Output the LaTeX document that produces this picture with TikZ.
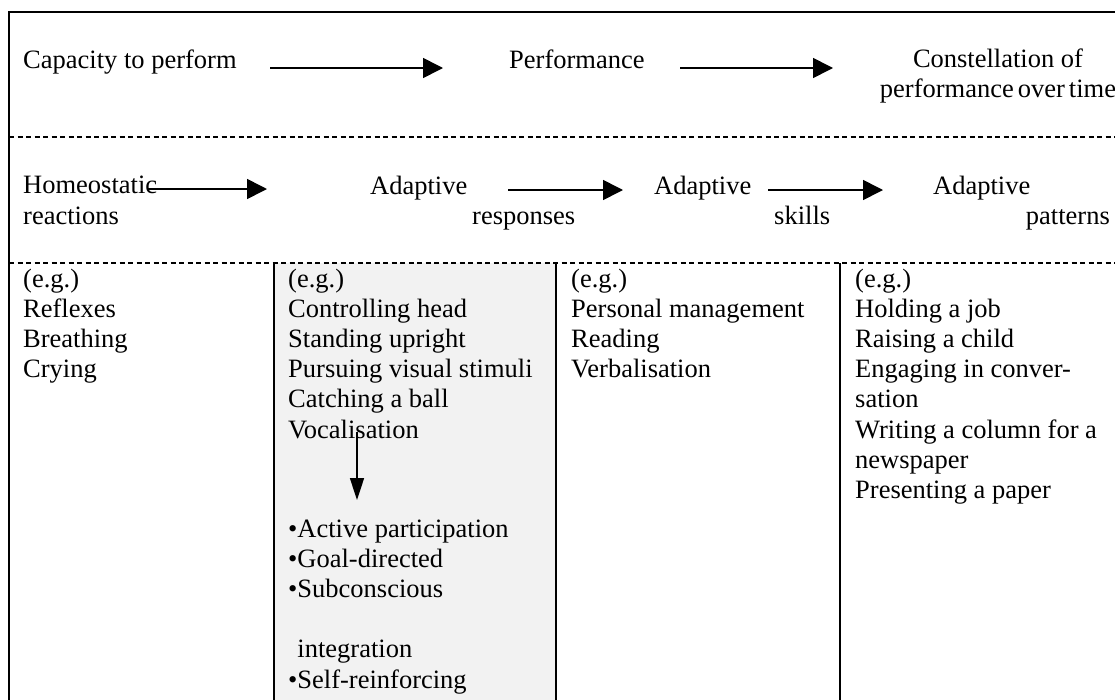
\documentclass[tikz,border=0pt]{standalone}
\usepackage{fontspec}
\setmainfont{Liberation Serif}
\usetikzlibrary{arrows.meta}
\definecolor{panelgray}{RGB}{242,242,242}
\begin{document}
\begin{tikzpicture}[x=1pt,y=-1pt,
  txt/.style={inner sep=0pt, font=\fontsize{26.5}{30.2}\selectfont, anchor=base west, align=left},
  flow/.style={line width=1.6pt, -{Triangle[length=20pt,width=20pt]}},
  downflow/.style={line width=1.6pt, -{Triangle[length=22pt,width=14pt]}},
  frame/.style={line width=2pt},
  divider/.style={line width=2pt},
  sep/.style={line width=1.5pt, dash pattern=on 5pt off 3.5pt}]
\useasboundingbox (0,0) rectangle (1115,699);
\clip (0,0) rectangle (1115,699);
% background panel and frame
\fill[panelgray] (274,263) rectangle (556,720);
\draw[frame] (9,720) -- (9,12) -- (1130,12);
\draw[sep] (9,137) -- (1125,137);
\draw[sep] (9,263) -- (1125,263);
\draw[divider] (274,263) -- (274,720);
\draw[divider] (556,263) -- (556,720);
\draw[divider] (840,263) -- (840,720);
% row 1 (multi-line nodes are anchored at the baseline of their last line)
\node[txt] (cap) at (23,68) {Capacity to perform};
\node[txt] (perf) at (509,68) {Performance};
\node[txt, align=center, anchor=base] (const) at (998,97) {Constellation of\\[-1pt]performance\kern4pt over\kern4pt time};
\coordinate (a1s) at (270,68); \coordinate (a1e) at (443,68);
\coordinate (a2s) at (680,68); \coordinate (a2e) at (833,68);
\draw[flow] (a1s) -- (a1e);
\draw[flow] (a2s) -- (a2e);
% row 2
\node[txt] (homeo) at (23,224) {Homeostatic\\reactions};
\node[txt] (adapt1) at (370,194) {Adaptive};
\node[txt] (resp) at (472,224) {responses};
\node[txt] (adapt2) at (654,194) {Adaptive};
\node[txt] (skills) at (774,224) {skills};
\node[txt] (adapt3) at (933,194) {Adaptive};
\node[txt, anchor=base east] (patt) at (1110,224) {patterns};
\coordinate (b1s) at (148,189); \coordinate (b1e) at (267,189);
\coordinate (b2s) at (508,190); \coordinate (b2e) at (623,190);
\coordinate (b3s) at (768,190); \coordinate (b3e) at (883,190);
\draw[flow] (b1s) -- (b1e);
\draw[flow] (b2s) -- (b2e);
\draw[flow] (b3s) -- (b3e);
% row 3 columns
\node[txt] (col1) at (23,377.6) {(e.g.)\\Reflexes\\Breathing\\Crying};
\node[txt] (col2) at (288,438) {(e.g.)\\Controlling head\\Standing upright\\Pursuing visual stimuli\\Catching a ball\\Vocalisation};
\node[txt] (col2b) at (288,688) {\textbullet Active participation\\\textbullet Goal-directed\\\textbullet Subconscious\\[30.2pt]\phantom{\textbullet}integration\\\textbullet Self-reinforcing};
\node[txt] (col3) at (571,377.6) {(e.g.)\\Personal management\\Reading\\Verbalisation};
\node[txt] (col4) at (855,498.4) {(e.g.)\\Holding a job\\Raising a child\\Engaging in conver-\\sation\\Writing a column for a\\newspaper\\Presenting a paper};
\coordinate (vs) at (357,432); \coordinate (ve) at (357,500);
\draw[downflow] (vs) -- (ve);
\end{tikzpicture}
\end{document}
